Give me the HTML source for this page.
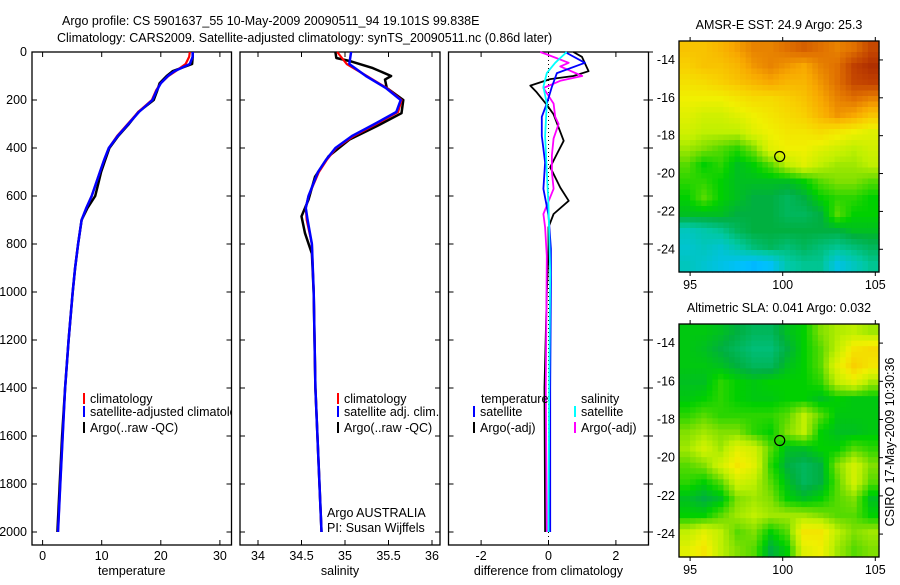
<!DOCTYPE html>
<html><head><meta charset="utf-8"><style>
html,body{margin:0;padding:0;background:#fff;}
svg text{font-family:"Liberation Sans",sans-serif;font-size:12.5px;fill:#000;}
</style></head><body>
<svg id="chart" width="900" height="580" viewBox="0 0 900 580" xmlns="http://www.w3.org/2000/svg">
<defs><clipPath id="p1clip"><rect x="32" y="52" width="199.5" height="493"/></clipPath></defs>
<text x="62" y="25">Argo profile: CS 5901637_55 10-May-2009 20090511_94 19.101S 99.838E</text>
<text x="57" y="42">Climatology: CARS2009. Satellite-adjusted climatology: synTS_20090511.nc (0.86d later)</text>
<g id="g"></g>
</svg>
<script>
// ---- profile data ----
const tDepth = [0,20,50,80,100,130,160,200,250,300,350,400,450,500,550,600,650,700,800,900,1000,1200,1400,1600,1800,2000];
const tClim  = [24.9,24.8,24.2,22.5,21.3,20.0,19.2,18.5,16.2,14.4,12.6,11.2,10.4,9.7,9.0,8.3,7.4,6.6,6.0,5.5,5.1,4.4,3.8,3.4,3.0,2.6];
const tSat   = [25.4,25.4,24.9,22.3,21.2,20.0,19.3,18.6,16.3,14.5,12.7,11.2,10.4,9.7,9.0,8.3,7.4,6.6,6.0,5.5,5.1,4.4,3.8,3.4,3.0,2.6];
const tArgo  = [25.4,25.4,25.3,22.0,21.0,19.8,19.4,18.8,16.2,14.6,12.8,11.3,10.6,9.9,9.4,8.9,7.6,6.6,6.0,5.5,5.1,4.4,3.8,3.3,2.9,2.5];
const sDepth = [0,50,100,150,200,250,300,350,400,450,500,600,650,700,800,1000,1400,2000];
const sClim  = [34.91,35.02,35.25,35.48,35.65,35.61,35.36,35.10,34.90,34.79,34.70,34.58,34.55,34.56,34.62,34.64,34.66,34.73];
const sSat   = [35.07,35.05,35.24,35.47,35.64,35.59,35.34,35.08,34.89,34.78,34.69,34.58,34.55,34.57,34.62,34.64,34.66,34.73];
const saDepth = [0,25,39,67,100,115,150,200,255,310,365,435,520,615,685,755,840,1005,1400,2000];
const sArgo   = [34.89,34.90,35.07,35.32,35.53,35.46,35.48,35.67,35.65,35.36,35.05,34.81,34.655,34.58,34.50,34.54,34.62,34.64,34.66,34.73];
const dtsDepth = [0,45,88,145,215,270,350,460,570,680,820,960,1400,2000];
const dTSat    = [0.49,1.08,0.25,0.1,-0.05,-0.2,-0.2,-0.1,-0.15,0,0.07,0.07,0.05,0.05];
const dtaDepth = [0,20,80,100,113,140,168,220,260,370,425,480,565,620,675,730,840,1000,1400,2000];
const dTArgo   = [0.74,0.99,1.19,0.74,0.05,-0.54,-0.35,-0.05,0.15,0.45,0.25,0.05,0.35,0.6,0.15,0,0,-0.05,-0.12,-0.1];
const dssDepth = [0,45,88,145,215,350,500,640,920,1400,2000];
const dSSat    = [0.54,0.2,-0.05,-0.15,-0.05,-0.1,-0.05,0,0.05,0.02,0.0];
const dsaDepth = [0,10,45,60,100,120,150,215,270,300,360,430,500,570,675,730,850,1400,2000];
const dSArgo   = [-0.25,-0.05,0.6,0.35,1.0,0.35,-0.15,0.15,0.2,0.3,0.15,0.1,0.1,0.15,-0.15,-0.1,-0.05,-0.08,-0.05];
const tTicks = [0,10,20,30];
const sTicks = [34,34.5,35,35.5,36];
const sTickLabels = ["34","34.5","35","35.5","36"];
const dTicks = [-2,0,2];
const depthTicks = [0,200,400,600,800,1000,1200,1400,1600,1800,2000];
// ---- map data ----
const sstGrid = [
[.8,.8,.82,.85,.88,.88,.9,.92,.9,.88,.9,.95],
[.78,.8,.8,.82,.86,.88,.86,.84,.88,.9,.96,.98],
[.75,.76,.78,.8,.82,.84,.82,.82,.86,.9,.95,.96],
[.72,.72,.72,.74,.76,.76,.78,.8,.84,.88,.9,.88],
[.7,.68,.68,.7,.72,.74,.76,.78,.82,.86,.84,.8],
[.68,.66,.66,.66,.7,.72,.74,.74,.76,.74,.72,.7],
[.64,.62,.6,.58,.62,.7,.72,.72,.7,.68,.66,.68],
[.6,.56,.58,.54,.56,.6,.66,.7,.66,.64,.64,.66],
[.58,.58,.56,.54,.54,.54,.54,.56,.6,.62,.62,.6],
[.56,.6,.56,.54,.52,.52,.5,.52,.56,.58,.58,.56],
[.54,.54,.54,.52,.52,.52,.5,.5,.52,.6,.56,.56],
[.42,.44,.46,.5,.52,.52,.52,.52,.52,.52,.54,.54],
[.4,.42,.4,.44,.48,.5,.48,.5,.48,.46,.48,.5],
[.42,.4,.38,.36,.34,.36,.44,.46,.46,.38,.42,.46]];
const slaGrid = [
[.55,.55,.54,.52,.5,.5,.54,.56,.62,.65,.66,.64],
[.55,.54,.52,.5,.48,.48,.52,.56,.6,.66,.74,.76],
[.55,.55,.54,.52,.5,.5,.54,.56,.6,.7,.78,.74],
[.54,.54,.58,.56,.55,.56,.56,.56,.58,.66,.7,.64],
[.55,.56,.58,.56,.55,.55,.56,.56,.54,.56,.55,.55],
[.58,.6,.58,.58,.58,.58,.6,.66,.6,.55,.55,.55],
[.62,.64,.62,.62,.58,.56,.62,.66,.56,.54,.54,.55],
[.64,.68,.64,.7,.68,.6,.54,.54,.56,.56,.6,.58],
[.6,.62,.68,.74,.7,.58,.52,.5,.52,.62,.68,.62],
[.58,.56,.6,.68,.66,.6,.54,.5,.52,.6,.68,.6],
[.54,.52,.54,.62,.64,.62,.56,.54,.56,.6,.62,.54],
[.56,.56,.6,.64,.66,.64,.64,.64,.62,.6,.6,.56],
[.66,.7,.66,.6,.62,.56,.6,.74,.74,.66,.62,.64],
[.7,.74,.66,.62,.6,.52,.56,.7,.72,.64,.6,.62]];
const floatLon = 99.838, floatLat = -19.101;
const latTicks = [-14,-16,-18,-20,-22,-24];
const lonTicks = [95,100,105];

const NS="http://www.w3.org/2000/svg", G=document.getElementById('g');
function mk(tag,at,name,parent){const e=document.createElementNS(NS,tag);for(const k in at)e.setAttribute(k,at[k]);


(parent||G).appendChild(e);return e;}
const yD = d => 52 + d*0.24;
const panels = [
 {x0:32,x1:231.5,sc:v=>42.6+v*5.91,ticks:tTicks,labs:tTicks.map(String),lab:'temperature',name:'temperature'},
 {x0:240,x1:440,sc:v=>258+(v-34)*87,ticks:sTicks,labs:sTickLabels,lab:'salinity',name:'salinity'},
 {x0:448.5,x1:648.5,sc:v=>548.5+v*33.7,ticks:dTicks,labs:dTicks.map(String),lab:'difference from climatology',name:'difference'}];
panels.forEach((p,i)=>{
 mk('rect',{x:p.x0,y:52,width:p.x1-p.x0,height:493,fill:'none',stroke:'#000','stroke-width':1.3},p.name+'-axes-box');
 p.ticks.forEach((t,j)=>{const x=p.sc(t);
  mk('line',{x1:x,x2:x,y1:545,y2:540,stroke:'#000'},p.name+'-x-tick');
  mk('line',{x1:x,x2:x,y1:52,y2:57,stroke:'#000'},p.name+'-x-tick-top');
  const tx=mk('text',{x:x,y:560,'text-anchor':'middle'},p.name+'-x-tick-label');tx.textContent=p.labs[j];});
 const xl=mk('text',{x:(p.x0+p.x1)/2,y:575,'text-anchor':'middle'},p.name+'-x-axis-title');xl.textContent=p.lab;
 depthTicks.forEach(d=>{const y=yD(d);
  mk('line',{x1:p.x0,x2:p.x0+5,y1:y,y2:y,stroke:'#000'},'depth-tick');
  mk('line',{x1:p.x1,x2:p.x1-5,y1:y,y2:y,stroke:'#000'},'depth-tick-right');
  if(i==0){const t=mk('text',{x:27,y:y+4,'text-anchor':'end'},'depth-tick-label');t.textContent=d;}
 });
});
mk('line',{x1:548.5,x2:548.5,y1:52,y2:545,stroke:'#000','stroke-dasharray':'1,3'},'zero-reference-line');
for(const d of depthTicks){mk('line',{x1:648.5,x2:653,y1:yD(d),y2:yD(d),stroke:'#000'},'right-depth-tick');}
function line(p,depths,vals,col,w,name){
 const pts=depths.map((d,k)=>p.sc(vals[k]).toFixed(1)+','+yD(d).toFixed(1)).join(' ');
 mk('polyline',{points:pts,fill:'none',stroke:col,'stroke-width':w,'stroke-linejoin':'round'},name);}
line(panels[0],tDepth,tArgo,'#000',2.5,'temperature-argo-line');
line(panels[0],tDepth,tClim,'#f00',2.2,'temperature-climatology-line');
line(panels[0],tDepth,tSat,'#00f',2.5,'temperature-satellite-line');
line(panels[1],saDepth,sArgo,'#000',2.5,'salinity-argo-line');
line(panels[1],sDepth,sClim,'#f00',2.2,'salinity-climatology-line');
line(panels[1],sDepth,sSat,'#00f',2.5,'salinity-satellite-line');
line(panels[2],dtaDepth,dTArgo,'#000',1.8,'temperature-difference-argo-line');
line(panels[2],dsaDepth,dSArgo,'#f0f',1.8,'salinity-difference-argo-line');
line(panels[2],dtsDepth,dTSat,'#00f',1.8,'temperature-difference-satellite-line');
line(panels[2],dssDepth,dSSat,'#0ff',1.8,'salinity-difference-satellite-line');
function leg(x,y,col,txt,name,parent){mk('line',{x1:x,x2:x,y1:y-10,y2:y+1,stroke:col,'stroke-width':2},name+'-swatch',parent);
 const t=mk('text',{x:x+6,y:y},name,parent);t.textContent=txt;}
const lg1=mk('g',{'clip-path':'url(#p1clip)'},'temperature-legend');
leg(84,403,'#f00','climatology','legend-temperature-climatology',lg1);
leg(84,416,'#00f','satellite-adjusted climatology','legend-temperature-satellite',lg1);
leg(84,432,'#000','Argo(..raw -QC)','legend-temperature-argo',lg1);
leg(338,403,'#f00','climatology','legend-salinity-climatology');
leg(338,416,'#00f','satellite adj. clim.','legend-salinity-satellite');
leg(338,432,'#000','Argo(..raw -QC)','legend-salinity-argo');
let t=mk('text',{x:481,y:403},'legend-temperature-heading');t.textContent='temperature';
t=mk('text',{x:581,y:403},'legend-salinity-heading');t.textContent='salinity';
leg(474,416,'#00f','satellite','legend-difference-temperature-satellite');
leg(474,432,'#000','Argo(-adj)','legend-difference-temperature-argo');
leg(575,416,'#0ff','satellite','legend-difference-salinity-satellite');
leg(575,432,'#f0f','Argo(-adj)','legend-difference-salinity-argo');
t=mk('text',{x:327,y:517},'institution-label');t.textContent='Argo AUSTRALIA';
t=mk('text',{x:327,y:532},'pi-label');t.textContent='PI: Susan Wijffels';
const cmV=[0.3,0.35,0.45,0.52,0.56,0.62,0.66,0.72,0.78,0.84,0.9,0.96,1.0];
const cmC=[[0,150,255],[0,192,255],[0,200,160],[0,176,64],[0,208,0],[128,224,0],[192,240,0],[240,240,0],[248,208,0],[248,168,0],[224,112,0],[192,64,0],[160,32,0]];
function cmap(v){if(v<=cmV[0])return cmC[0];for(let i=1;i<cmV.length;i++){if(v<=cmV[i]){const f=(v-cmV[i-1])/(cmV[i]-cmV[i-1]);return cmC[i].map((c,k)=>Math.round(cmC[i-1][k]+(c-cmC[i-1][k])*f));}}return cmC[cmC.length-1];}
function drawMap(grid,box,title,name){
 const {x0,x1,y0,y1}=box, R=grid.length, C=grid[0].length, up=3;
 const lonX=l=>x0+(l-94.4)/(105.2-94.4)*(x1-x0), latY=a=>y0+(-13-a)/(25.2-13)*(y1-y0);
 const NR=R*up, NC=C*up, cw=(x1-x0)/NC, ch=(y1-y0)/NR;
 const g=mk('g',{},name+'-heatmap');
 for(let r=0;r<NR;r++)for(let c=0;c<NC;c++){
  const fr=Math.min(Math.max((r+0.5)/up-0.5,0),R-1), fc=Math.min(Math.max((c+0.5)/up-0.5,0),C-1);
  const r0=Math.floor(fr),c0=Math.floor(fc),r1=Math.min(r0+1,R-1),c1=Math.min(c0+1,C-1),a=fr-r0,b=fc-c0;
  const v=grid[r0][c0]*(1-a)*(1-b)+grid[r0][c1]*(1-a)*b+grid[r1][c0]*a*(1-b)+grid[r1][c1]*a*b;
  const col=cmap(v);
  mk('rect',{x:(x0+c*cw).toFixed(2),y:(y0+r*ch).toFixed(2),width:(cw+0.6).toFixed(2),height:(ch+0.6).toFixed(2),fill:`rgb(${col})`},name+'-cell',g);}
 mk('rect',{x:x0,y:y0,width:x1-x0,height:y1-y0,fill:'none',stroke:'#000','stroke-width':1.3},name+'-frame');
 latTicks.forEach(a=>{const y=latY(a);mk('line',{x1:x1,x2:x1+4,y1:y,y2:y,stroke:'#000'},name+'-lat-tick');
  const tt=mk('text',{x:x0-4,y:y+4,'text-anchor':'end'},name+'-lat-label');tt.textContent=a;});
 lonTicks.forEach(l=>{const x=lonX(l);mk('line',{x1:x,x2:x,y1:y0,y2:y0-4,stroke:'#000'},name+'-lon-tick');
  mk('line',{x1:x,x2:x,y1:y1,y2:y1+4,stroke:'#000'},name+'-lon-tick-bottom');
  const tt=mk('text',{x:x,y:y1+17,'text-anchor':'middle'},name+'-lon-label');tt.textContent=l;});
 mk('circle',{cx:lonX(floatLon),cy:latY(floatLat),r:5,fill:'none',stroke:'#000','stroke-width':1.2},name+'-float-marker');
 const tt=mk('text',{x:(x0+x1)/2,y:y0-12,'text-anchor':'middle'},name+'-title');tt.textContent=title;
}
drawMap(sstGrid,{x0:679,x1:879,y0:41,y1:272},'AMSR-E SST: 24.9 Argo: 25.3','sst-map');
drawMap(slaGrid,{x0:679,x1:879,y0:324,y1:557},'Altimetric SLA: 0.041 Argo: 0.032','sla-map');
t=mk('text',{x:0,y:0,transform:'translate(894,442) rotate(-90)','text-anchor':'middle'},'timestamp-label');t.textContent='CSIRO 17-May-2009 10:30:36';
</script>
</body></html>
